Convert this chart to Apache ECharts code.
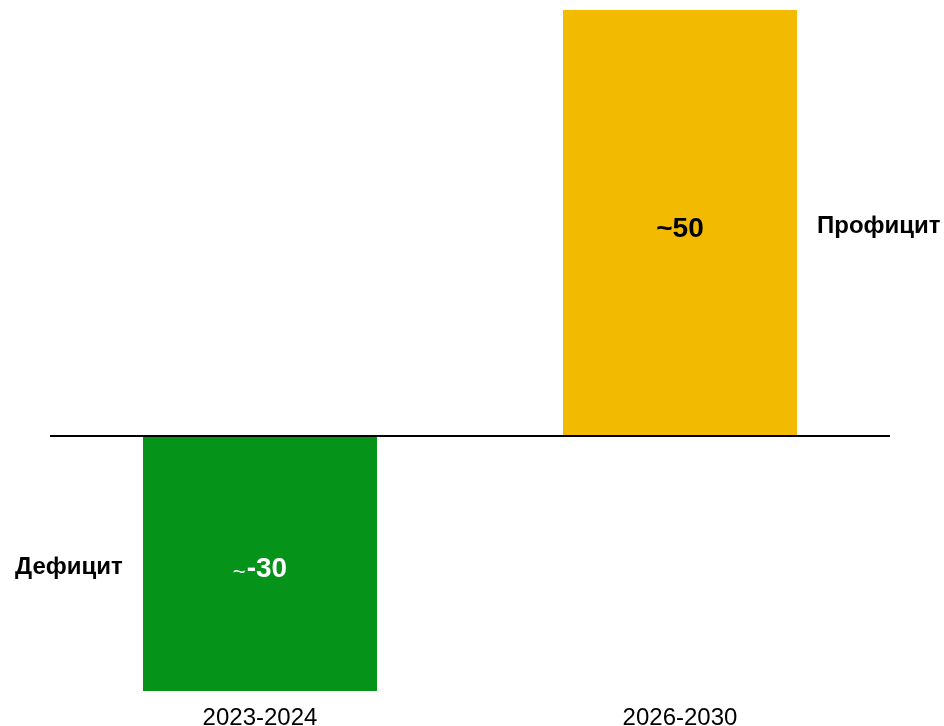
<!DOCTYPE html>
<html>
<head>
<meta charset="utf-8">
<script src="https://cdn.jsdelivr.net/npm/echarts@6/dist/echarts.min.js"></script>
<style>
html,body{margin:0;padding:0;background:#fff;}
#chart{width:944px;height:726px;}
</style>
</head>
<body>
<div id="chart"></div>
<script>
const categories = ['2023-2024', '2026-2030'];
const values = [-30, 50];
const barColors = ['#06931A', '#F2BA00'];
const labelColors = ['#ffffff', '#000000'];
const sideLabels = ['Дефицит', 'Профицит'];

const chart = echarts.init(document.getElementById('chart'));
const font = '"Liberation Sans", Arial, sans-serif';

chart.setOption({
  animation: false,
  backgroundColor: '#ffffff',
  grid: { left: 50, right: 54, top: 10, bottom: 35, containLabel: false, outerBoundsMode: 'none' },
  xAxis: {
    type: 'category',
    data: categories,
    position: 'bottom',
    axisLine: { show: false, onZero: false },
    axisTick: { show: false },
    axisLabel: { fontSize: 24, color: '#000', fontFamily: font, margin: 15 }
  },
  yAxis: {
    type: 'value', min: -30, max: 50, show: false,
    splitLine: { show: false }
  },
  series: [{
    type: 'bar',
    barWidth: 234,
    data: values.map((v, i) => ({
      value: v,
      itemStyle: { color: barColors[i] },
      label: { color: labelColors[i] }
    })),
    label: {
      show: true,
      position: 'inside',
      offset: [0, 6],
      fontFamily: font,
      formatter: p => (p.dataIndex === 0 ? '{t|~}' : '{t2|~}') + '{n|' + p.value + '}',
      rich: {
        t: { fontSize: 22, fontWeight: 'normal', fontFamily: font, padding: [8, 1, 0, 0] },
        t2: { fontSize: 28, fontWeight: 'bold', fontFamily: font },
        n: { fontSize: 28, fontWeight: 'bold', fontFamily: font }
      }
    },
    markLine: {
      silent: true,
      symbol: 'none',
      label: { show: false },
      lineStyle: { color: '#000', width: 2, type: 'solid' },
      data: [{ yAxis: 0 }]
    }
  }],
  graphic: [
    { type: 'text', left: 15, top: 555, style: { text: sideLabels[0], font: 'bold 24px ' + font, fill: '#000' } },
    { type: 'text', left: 817, top: 214, style: { text: sideLabels[1], font: 'bold 24px ' + font, fill: '#000' } }
  ]
});
</script>
</body>
</html>
